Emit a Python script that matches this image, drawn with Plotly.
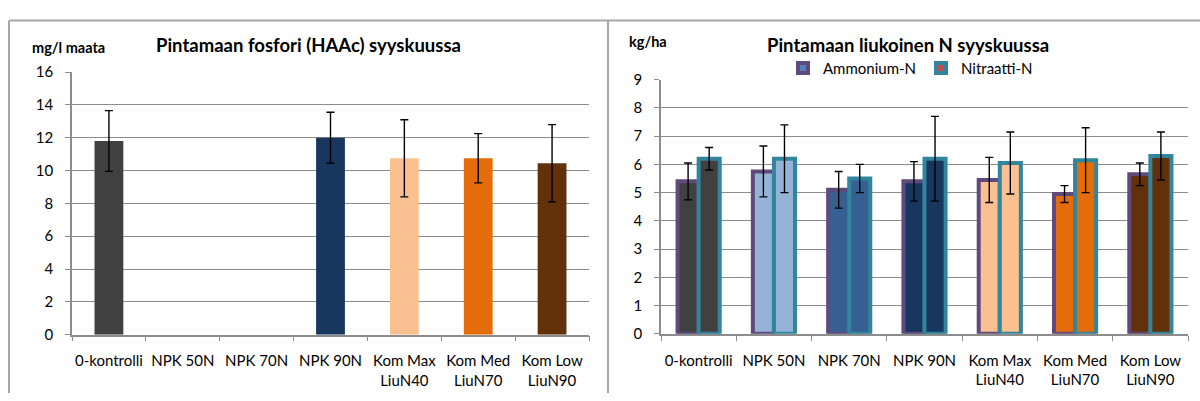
import plotly.graph_objects as go

categories = ["0-kontrolli", "NPK 50N", "NPK 70N", "NPK 90N",
              "Kom Max<br>LiuN40", "Kom Med<br>LiuN70", "Kom Low<br>LiuN90"]
cat_colors = ["#404040", "#95b3d7", "#366092", "#17375e", "#fac090", "#e46c0a", "#623109"]

# Left: phosphorus (mg/l maata)
fosfori = [11.8, None, None, 12.0, 10.75, 10.75, 10.45]
fosfori_err = [1.85, None, None, 1.55, 2.35, 1.5, 2.35]

# Right: soluble N (kg/ha)
ammonium = [5.4, 5.75, 5.1, 5.4, 5.45, 4.95, 5.65]
ammonium_err = [0.65, 0.9, 0.65, 0.7, 0.8, 0.3, 0.4]
nitraatti = [6.2, 6.2, 5.5, 6.2, 6.05, 6.15, 6.3]
nitraatti_err = [0.4, 1.2, 0.5, 1.5, 1.1, 1.15, 0.85]

FONT = "Lato, Calibri, sans-serif"
W, H = 1200, 401
GRID = "#8c8c8c"
FRAME = "#a6a6a6"

def px(x):
    return x / W

def py(y):
    return 1 - y / H

fig = go.Figure()

fig.add_trace(go.Bar(
    x=categories, y=fosfori, marker=dict(color=cat_colors, line=dict(width=0)),
    error_y=dict(type="data", array=fosfori_err, color="black", thickness=1.4, width=4),
    xaxis="x", yaxis="y", showlegend=False, width=0.39,
))

fig.add_trace(go.Bar(
    x=categories, y=ammonium, name="Ammonium-N",
    marker=dict(color=cat_colors, line=dict(color="#604a7b", width=4)),
    error_y=dict(type="data", array=ammonium_err, color="black", thickness=1.4, width=4),
    xaxis="x2", yaxis="y2", showlegend=False, offsetgroup="a",
))
fig.add_trace(go.Bar(
    x=categories, y=nitraatti, name="Nitraatti-N",
    marker=dict(color=cat_colors, line=dict(color="#31859c", width=4)),
    error_y=dict(type="data", array=nitraatti_err, color="black", thickness=1.4, width=4),
    xaxis="x2", yaxis="y2", showlegend=False, offsetgroup="b",
))

# legend entries
fig.add_trace(go.Scatter(
    x=[None], y=[None], mode="markers", name="Ammonium-N",
    marker=dict(symbol="square", size=10, color="#4f81bd", line=dict(color="#604a7b", width=4)),
    xaxis="x2", yaxis="y2",
))
fig.add_trace(go.Scatter(
    x=[None], y=[None], mode="markers", name="Nitraatti-N",
    marker=dict(symbol="square", size=10, color="#c0504d", line=dict(color="#31859c", width=4)),
    xaxis="x2", yaxis="y2",
))

axis_common = dict(
    showline=True, linecolor=GRID, linewidth=1.5,
    ticks="outside", ticklen=5, tickcolor=GRID,
    tickfont=dict(family=FONT, size=15, color="black"),
    fixedrange=True,
)

def frame_line(x0, y0, x1, y1):
    return dict(type="line", xref="paper", yref="paper",
                x0=px(x0), y0=py(y0), x1=px(x1), y1=py(y1),
                line=dict(color=FRAME, width=2), layer="below")

fig.update_layout(
    width=W, height=H, margin=dict(l=0, r=0, t=0, b=0),
    paper_bgcolor="white", plot_bgcolor="white",
    barmode="group", bargap=0.44, bargroupgap=0,
    font=dict(family=FONT, color="black"),
    xaxis=dict(domain=[px(72), px(589)], anchor="y", type="category",
               tickson="boundaries", showgrid=False, ticklabelstandoff=12, tickangle=0,
               **axis_common),
    yaxis=dict(domain=[py(340), py(65)], anchor="x", range=[0, 16], dtick=2,
               showgrid=True, gridcolor=GRID, gridwidth=1.3, zeroline=False,
               ticklabelstandoff=9, **axis_common),
    xaxis2=dict(domain=[px(661), px(1188)], anchor="y2", type="category",
                tickson="boundaries", showgrid=False, ticklabelstandoff=12, tickangle=0,
                **axis_common),
    yaxis2=dict(domain=[py(339), py(73)], anchor="x2", range=[0, 9], dtick=1,
                showgrid=True, gridcolor=GRID, gridwidth=1.3, zeroline=False,
                ticklabelstandoff=9, **axis_common),
    legend=dict(orientation="h", x=px(783), xanchor="left", y=py(61), yanchor="middle",
                font=dict(family=FONT, size=15, color="black"),
                bgcolor="rgba(0,0,0,0)", itemwidth=30, tracegroupgap=0),
    shapes=[
        frame_line(9, 11, 1200, 11),
        frame_line(9, 11, 9, 401),
        frame_line(608, 11, 608, 401),
    ],
    annotations=[
        dict(text="<b>Pintamaan fosfori (HAAc) syyskuussa</b>", x=px(308), y=py(37),
             xref="paper", yref="paper", showarrow=False, xanchor="center", yanchor="middle",
             font=dict(family=FONT, size=18.5, color="black")),
        dict(text="<b>mg/l maata</b>", x=px(30), y=py(39),
             xref="paper", yref="paper", showarrow=False, xanchor="left", yanchor="middle",
             font=dict(family=FONT, size=14.5, color="black")),
        dict(text="<b>Pintamaan liukoinen N syyskuussa</b>", x=px(908), y=py(37),
             xref="paper", yref="paper", showarrow=False, xanchor="center", yanchor="middle",
             font=dict(family=FONT, size=18.5, color="black")),
        dict(text="<b>kg/ha</b>", x=px(627), y=py(33),
             xref="paper", yref="paper", showarrow=False, xanchor="left", yanchor="middle",
             font=dict(family=FONT, size=14.5, color="black")),
    ],
)

fig.write_html("out.html", config={"displayModeBar": False},
               post_script="document.documentElement.style.margin='0';document.documentElement.style.overflow='hidden';document.body.style.margin='0';document.body.style.padding='0';document.body.style.overflow='hidden';")
